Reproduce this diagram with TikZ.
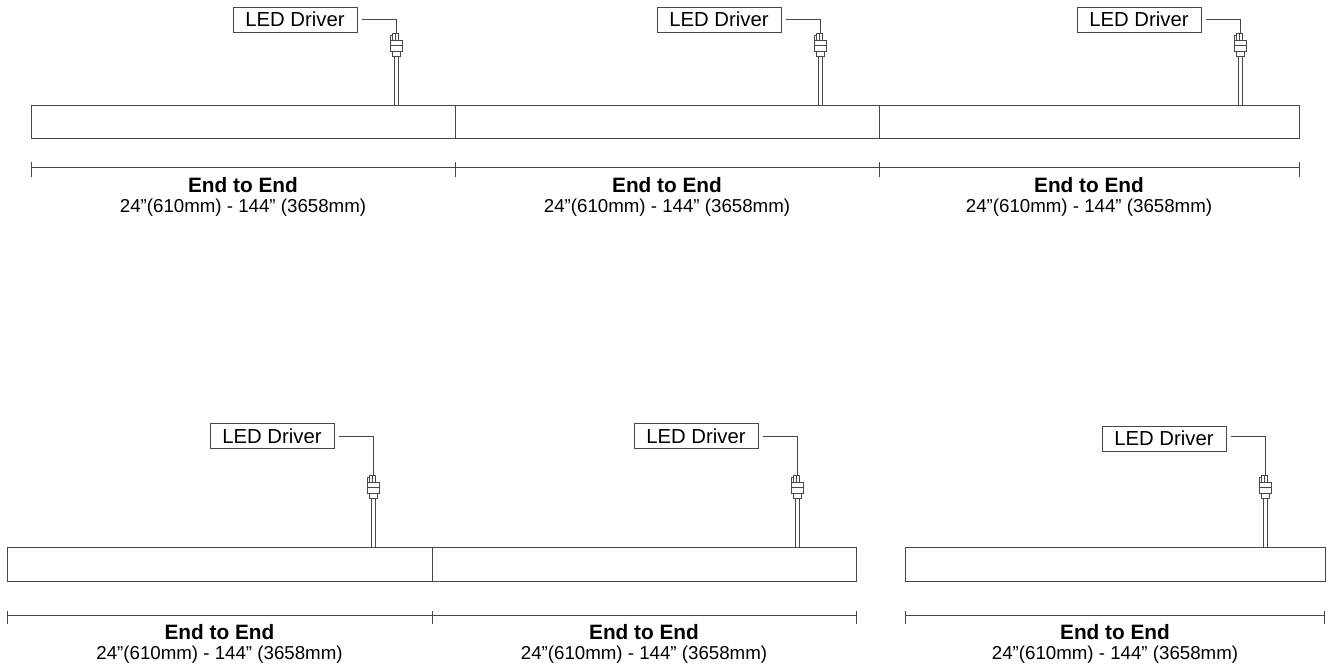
\documentclass[tikz,border=0pt]{standalone}
\usepackage{fontspec}
\setmainfont{Liberation Sans}
\definecolor{ln}{HTML}{474747}
\begin{document}
\begin{tikzpicture}[x=1pt,y=-1pt, line width=0.9pt,
  fixture/.style={draw=ln, fill=white, inner sep=0pt, anchor=north west, line width=0.9pt},
  dimline/.style={draw=ln, line width=0.9pt},
  drvbox/.style={draw=ln, line width=0.9pt, minimum width=124pt, minimum height=25pt, inner sep=0pt, font=\fontsize{20.3}{21}\selectfont},
  ttl/.style={anchor=base, inner sep=0pt, font=\fontsize{20.8}{21}\selectfont\bfseries},
  szl/.style={anchor=base, inner sep=0pt, font=\fontsize{18.7}{19}\selectfont},
  wire/.style={draw=ln, line width=0.9pt},
  cable/.style={draw=ln, line width=0.8pt},
  plug/.pic={
    \draw[ln, line width=0.9pt, fill=white] (-3.5,0) rectangle (2.5,7);
    \draw[ln, line width=0.9pt] (-0.5,0) -- (-0.5,7);
    \draw[ln, line width=0.9pt, fill=white] (-6,2) rectangle (-4,10);
    \draw[ln, line width=0.9pt, fill=white] (-5.5,7) rectangle (6,18);
    \draw[ln, line width=0.9pt] (-5.5,12) -- (6,12);
    \draw[ln, line width=0.9pt, fill=white] (-3.5,18) rectangle (4.5,23);
  }]
\useasboundingbox (0,0) rectangle (1328,665);

% ---------- top row fixtures ----------
\node[fixture, minimum width=424pt, minimum height=33.2pt] (f1) at (31,104.5) {};
\node[fixture, minimum width=424pt, minimum height=33.2pt] (f2) at (455,104.5) {};
\node[fixture, minimum width=420pt, minimum height=33.2pt] (f3) at (879,104.5) {};

% ---------- bottom row fixtures ----------
\node[fixture, minimum width=425pt, minimum height=33.2pt] (g1) at (7,547.3) {};
\node[fixture, minimum width=424pt, minimum height=33.2pt] (g2) at (432,547.3) {};
\node[fixture, minimum width=420pt, minimum height=33.2pt] (g3) at (905,547.3) {};

% ---------- dimension lines ----------
\coordinate (ta) at (31,167.5);
\coordinate (tb) at (455,167.5);
\coordinate (tc) at (879,167.5);
\coordinate (td) at (1299,167.5);
\draw[dimline] (ta) -- (td);
\foreach \p in {ta,tb,tc,td} \draw[dimline] ([yshift=-9.5pt]\p) -- ([yshift=5.5pt]\p);

\coordinate (ba) at (7,615);
\coordinate (bb) at (432,615);
\coordinate (bc) at (856,615);
\coordinate (bd) at (905,615);
\coordinate (be) at (1324.5,615);
\draw[dimline] (ba) -- (bc);
\draw[dimline] (bd) -- (be);
\foreach \p in {ba,bb,bc,bd,be} \draw[dimline] ([yshift=-9pt]\p) -- ([yshift=4.5pt]\p);

% ---------- labels ----------
\foreach \n/\x/\y in {t1/243/192, t2/667/192, t3/1089/192, b1/219.5/639, b2/644/639, b3/1115/639}{
  \node[ttl] (e\n) at (\x,\y) {End to End};
  \node[szl] (s\n) at (\x,\y+20) {24”(610mm) - 144” (3658mm)};
}

% ---------- drivers ----------
\foreach \n/\cx/\ly/\by/\py/\fx in {1/396/19/19.5/33.5/f1, 2/820/19/19.5/33.5/f2, 3/1240/19/19.5/33.5/f3,
                                    4/373/436/436/475.5/g1, 5/797/436/436/475.5/g2, 6/1265/436/438.5/475.5/g3}{
  \node[drvbox] (d\n) at (\cx-101,\by) {LED Driver};
  \coordinate (w\n) at (\cx-34,\ly);
  \coordinate (p\n) at (\cx,\py);
  \coordinate (ql\n) at (\cx-2,\py+23);
  \coordinate (qr\n) at (\cx+2,\py+23);
  \draw[wire] (w\n) -| (p\n);
  \draw[cable] (ql\n) -- (ql\n |- \fx.north);
  \draw[cable] (qr\n) -- (qr\n |- \fx.north);
  \pic at (p\n) {plug};
}
\end{tikzpicture}
\end{document}
